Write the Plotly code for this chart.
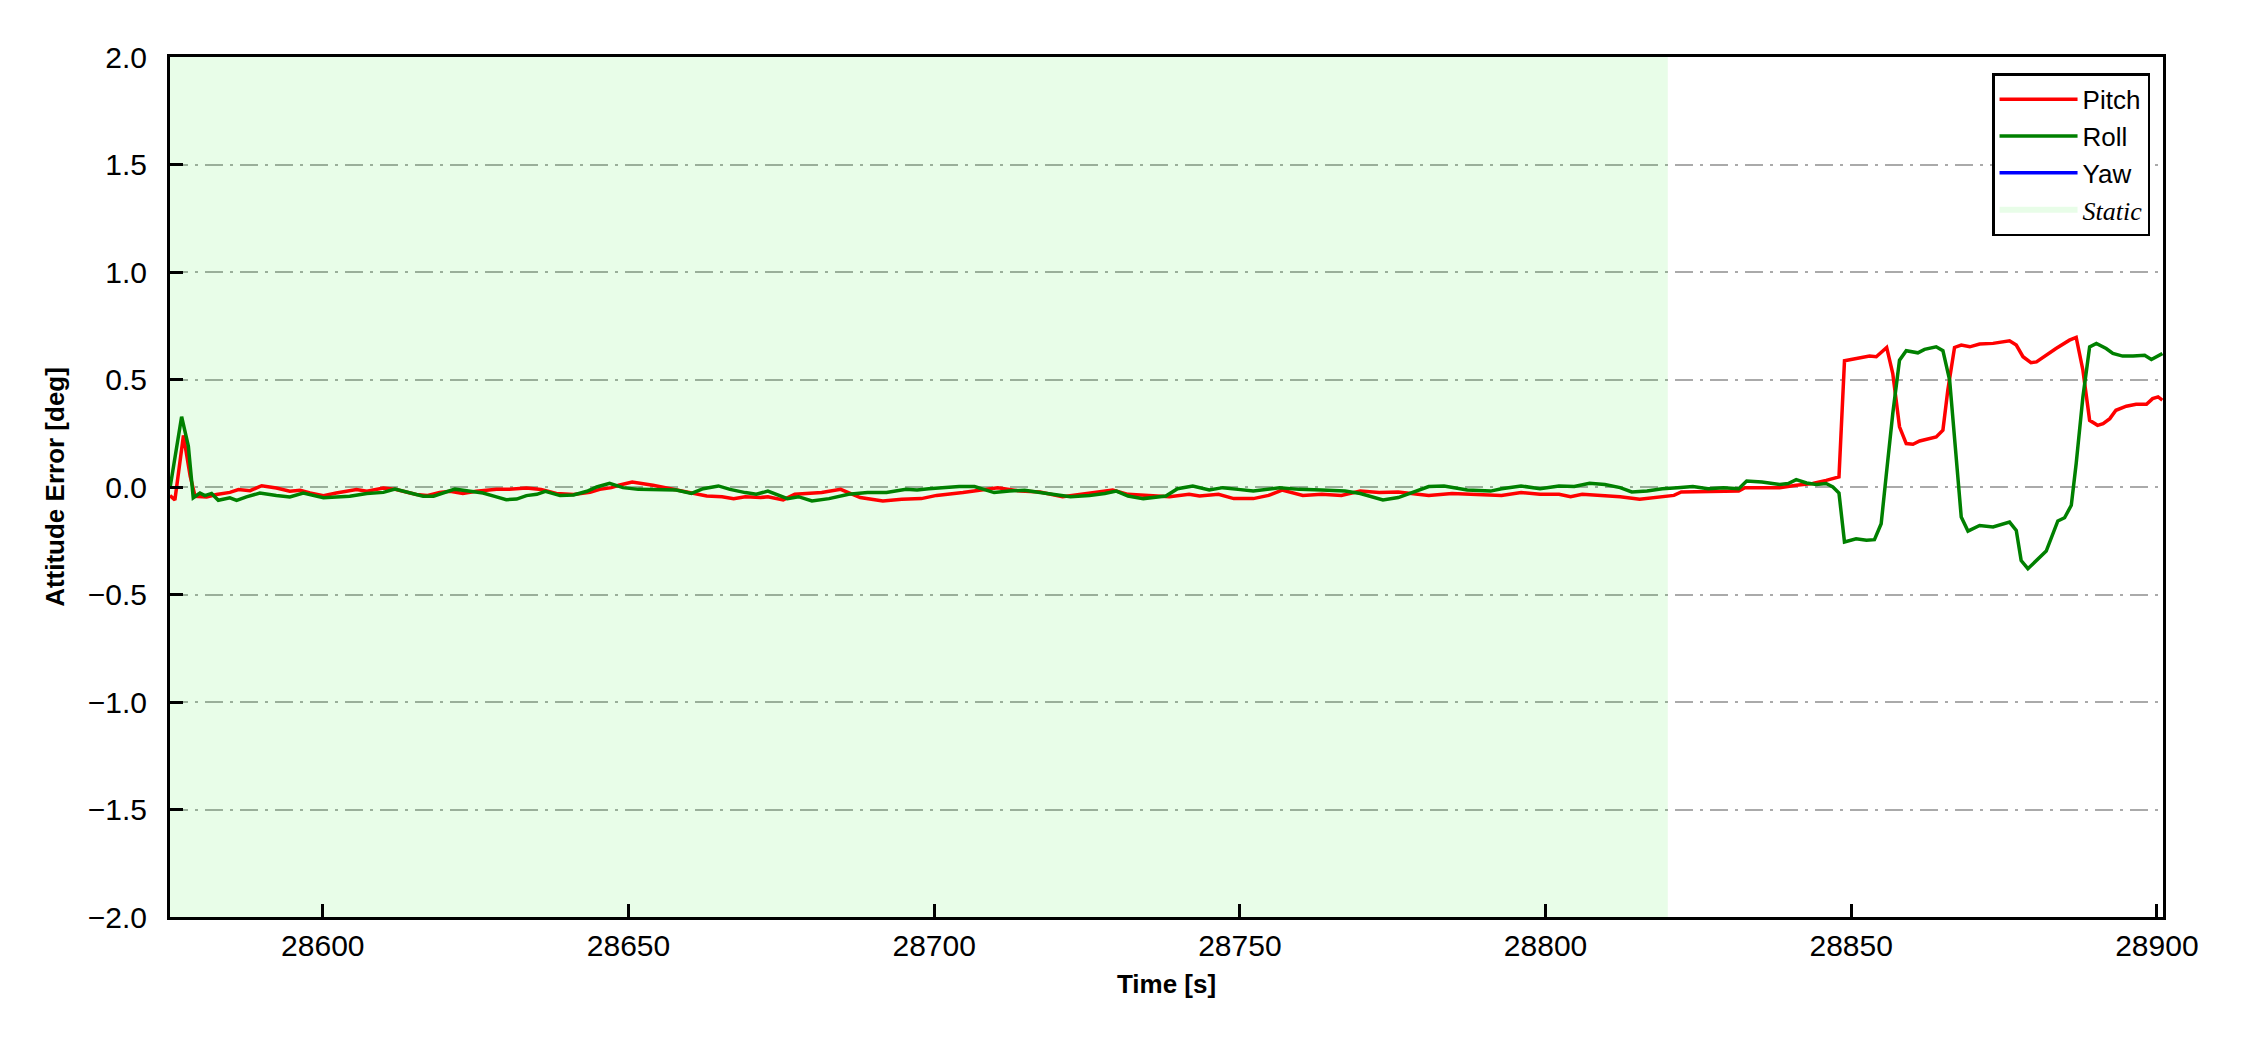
import plotly.graph_objects as go

# Attitude error time series
pitch_t = [28575.0, 28575.8, 28577.2, 28578.3, 28579.1, 28581.0, 28582.6, 28584.8, 28586.2, 28588.1,
           28590.0, 28592.4, 28594.6, 28596.3, 28597.9, 28600.1, 28602.2, 28604.4, 28605.5, 28607.2,
           28609.9, 28612.0, 28615.3, 28617.0, 28619.1, 28620.8, 28622.9, 28625.1, 28628.4, 28630.5,
           28633.3, 28635.7, 28638.2, 28641.0, 28643.7, 28645.3, 28647.2, 28648.4, 28650.6, 28654.0,
           28657.8, 28660.3, 28662.8, 28665.3, 28667.2, 28669.1, 28671.6, 28672.8, 28675.3, 28677.2,
           28681.6, 28684.7, 28687.9, 28691.6, 28694.7, 28697.9, 28700.4, 28704.7, 28707.9, 28710.4,
           28714.1, 28717.3, 28721.0, 28724.2, 28726.7, 28729.2, 28731.7, 28734.8, 28738.5, 28741.7,
           28743.4, 28746.5, 28749.0, 28752.2, 28754.7, 28756.9, 28760.3, 28763.4, 28766.6, 28769.7,
           28772.8, 28775.9, 28780.9, 28784.7, 28789.1, 28792.8, 28796.0, 28799.1, 28802.2, 28804.1,
           28806.0, 28809.1, 28812.2, 28815.4, 28818.5, 28821.0, 28822.2, 28826.0, 28829.7, 28831.6,
           28832.6, 28836.6, 28838.3, 28841.0, 28843.7, 28845.9, 28848.0, 28848.9, 28850.8, 28853.0,
           28854.1, 28855.8, 28856.8, 28857.9, 28859.0, 28860.1, 28861.2, 28863.9, 28865.0, 28865.8,
           28866.9, 28868.0, 28869.4, 28871.0, 28873.2, 28875.9, 28877.0, 28878.1, 28879.4, 28880.3,
           28883.5, 28885.7, 28886.8, 28887.9, 28889.0, 28890.3, 28891.2, 28892.3, 28893.3, 28895.0,
           28896.6, 28898.3, 28899.3, 28900.2, 28900.9]
pitch_v = [-0.04, -0.06, 0.24, 0.05, -0.043, -0.046, -0.035, -0.025, -0.012, -0.017,
           0.006, -0.005, -0.02, -0.015, -0.028, -0.04, -0.028, -0.015, -0.012, -0.02,
           -0.005, -0.012, -0.035, -0.04, -0.025, -0.02, -0.03, -0.02, -0.01, -0.01,
           -0.005, -0.012, -0.03, -0.035, -0.025, -0.011, -0.003, 0.008, 0.023, 0.008,
           -0.014, -0.03, -0.042, -0.045, -0.054, -0.045, -0.049, -0.045, -0.06, -0.034,
           -0.026, -0.011, -0.049, -0.065, -0.057, -0.054, -0.039, -0.026, -0.011, -0.003,
           -0.019, -0.023, -0.045, -0.034, -0.023, -0.014, -0.034, -0.039, -0.045, -0.034,
           -0.042, -0.034, -0.054, -0.054, -0.039, -0.014, -0.039, -0.034, -0.039, -0.019,
           -0.026, -0.023, -0.039, -0.03, -0.034, -0.039, -0.026, -0.034, -0.034, -0.045,
           -0.034, -0.039, -0.045, -0.057, -0.049, -0.039, -0.023, -0.023, -0.019, -0.019,
           -0.003, -0.003, -0.003, 0.008, 0.016, 0.031, 0.047, 0.587, 0.598, 0.609,
           0.606, 0.649, 0.528, 0.28, 0.202, 0.199, 0.214, 0.233, 0.264, 0.45,
           0.649, 0.66, 0.652, 0.665, 0.668, 0.68, 0.66, 0.606, 0.578, 0.582,
           0.644, 0.683, 0.696, 0.543, 0.31, 0.287, 0.295, 0.318, 0.357, 0.376,
           0.385, 0.385, 0.411, 0.419, 0.404]

roll_t = [28575.0, 28576.9, 28578.0, 28578.8, 28579.9, 28580.7, 28581.8, 28582.9, 28584.8, 28585.9,
          28587.5, 28589.7, 28592.4, 28594.6, 28596.8, 28597.9, 28600.1, 28602.2, 28604.4, 28607.2,
          28609.9, 28611.8, 28614.2, 28616.4, 28618.1, 28619.7, 28621.6, 28624.1, 28626.2, 28628.4,
          28630.0, 28631.7, 28633.3, 28635.0, 28636.4, 28638.8, 28641.0, 28643.2, 28644.8, 28646.9,
          28649.1, 28651.6, 28654.7, 28657.8, 28660.3, 28662.2, 28664.7, 28666.6, 28669.1, 28670.9,
          28672.8, 28676.0, 28677.8, 28680.0, 28682.8, 28686.0, 28689.1, 28692.2, 28695.4, 28697.2,
          28699.1, 28701.6, 28704.1, 28706.6, 28709.8, 28712.3, 28714.8, 28717.3, 28719.8, 28722.3,
          28725.4, 28727.9, 28729.8, 28731.7, 28734.2, 28737.9, 28739.8, 28742.3, 28745.0, 28747.2,
          28749.7, 28752.2, 28756.5, 28759.7, 28763.4, 28767.2, 28769.7, 28773.4, 28775.9, 28778.4,
          28780.9, 28783.4, 28787.2, 28791.0, 28792.8, 28796.0, 28799.1, 28802.2, 28804.7, 28807.2,
          28809.7, 28812.2, 28814.1, 28816.6, 28819.1, 28821.6, 28824.1, 28826.6, 28829.1, 28831.6,
          28832.9, 28835.4, 28838.3, 28839.7, 28841.0, 28842.7, 28844.3, 28845.9, 28847.0, 28848.0,
          28848.9, 28850.8, 28852.5, 28853.8, 28854.9, 28855.7, 28856.8, 28857.9, 28859.0, 28860.9,
          28862.0, 28863.9, 28865.0, 28866.1, 28867.2, 28868.0, 28869.1, 28871.0, 28873.2, 28875.9,
          28877.0, 28877.8, 28878.9, 28880.3, 28881.9, 28883.8, 28884.9, 28886.0, 28886.8, 28887.9,
          28889.0, 28890.1, 28891.7, 28892.8, 28894.4, 28896.1, 28898.0, 28899.1, 28900.9]
roll_v = [-0.005, 0.327, 0.19, -0.05, -0.028, -0.04, -0.03, -0.062, -0.05, -0.062,
          -0.046, -0.028, -0.04, -0.046, -0.028, -0.035, -0.05, -0.046, -0.043, -0.03,
          -0.025, -0.01, -0.028, -0.043, -0.043, -0.028, -0.01, -0.02, -0.028, -0.046,
          -0.059, -0.056, -0.04, -0.034, -0.02, -0.04, -0.037, -0.02, 0.0, 0.017,
          -0.003, -0.011, -0.014, -0.014, -0.03, -0.008, 0.005, -0.011, -0.026, -0.034,
          -0.019, -0.054, -0.045, -0.065, -0.054, -0.034, -0.026, -0.026, -0.011, -0.014,
          -0.008, -0.003, 0.002, 0.002, -0.026, -0.019, -0.015, -0.026, -0.034, -0.045,
          -0.039, -0.03, -0.019, -0.042, -0.054, -0.042, -0.008, 0.005, -0.014, -0.003,
          -0.011, -0.019, -0.003, -0.011, -0.014, -0.019, -0.03, -0.06, -0.049, -0.023,
          0.002, 0.005, -0.014, -0.019, -0.008, 0.005, -0.008, 0.005, 0.002, 0.017,
          0.012, -0.003, -0.023, -0.019, -0.008, -0.003, 0.002, -0.008, -0.003, -0.008,
          0.028, 0.023, 0.012, 0.016, 0.034, 0.019, 0.012, 0.016, 0.0, -0.028,
          -0.256, -0.241, -0.248, -0.245, -0.171, 0.047, 0.342, 0.59, 0.634, 0.624,
          0.64, 0.652, 0.634, 0.497, 0.14, -0.14, -0.205, -0.179, -0.186, -0.163,
          -0.202, -0.342, -0.38, -0.342, -0.298, -0.158, -0.143, -0.085, 0.109, 0.419,
          0.652, 0.668, 0.644, 0.621, 0.609, 0.609, 0.613, 0.593, 0.621]

# yaw is listed in the legend but has no visible samples in the window
yaw_t = [28575.0]
yaw_v = [None]

static_interval = [28575, 28820]

x_range = [28575, 28901]
y_range = [-2.0, 2.0]
x_ticks = [28600, 28650, 28700, 28750, 28800, 28850, 28900]
y_ticks = [-2.0, -1.5, -1.0, -0.5, 0.0, 0.5, 1.0, 1.5, 2.0]

FONT = 'Liberation Sans, Arial, sans-serif'

fig = go.Figure()

# static period shading (translucent so the grid still shows through)
fig.add_trace(go.Scatter(
    x=[static_interval[0], static_interval[1], static_interval[1], static_interval[0]],
    y=[y_range[0], y_range[0], y_range[1], y_range[1]],
    mode='none', fill='toself', fillcolor='rgba(0,230,0,0.09)',
    name='<span style="font-family:Liberation Serif, Times New Roman, serif"><i>Static</i></span>',
    legendrank=4,
))

fig.add_trace(go.Scatter(x=pitch_t, y=pitch_v, mode='lines', name='Pitch',
                         line=dict(color='#ff0000', width=3.5), legendrank=1))
fig.add_trace(go.Scatter(x=roll_t, y=roll_v, mode='lines', name='Roll',
                         line=dict(color='#008000', width=3.5), legendrank=2))
fig.add_trace(go.Scatter(x=yaw_t, y=yaw_v, mode='lines', name='Yaw', showlegend=True,
                         line=dict(color='#0000ff', width=3.5), legendrank=3))

# page body adds an 8px offset, margins compensate for it
fig.update_layout(
    width=2250, height=1050,
    margin=dict(l=162, r=95, t=49, b=141),
    paper_bgcolor='white',
    plot_bgcolor='white',
    font=dict(family=FONT, size=30, color='black'),
    showlegend=True,
    legend=dict(
        x=0.9935, y=0.981, xanchor='right', yanchor='top',
        bgcolor='white', bordercolor='black', borderwidth=2.5,
        font=dict(family=FONT, size=26, color='black'),
        itemwidth=78, tracegroupgap=0,
    ),
    hovermode=False,
)

fig.update_xaxes(
    range=x_range, tickvals=x_ticks, ticktext=[str(v) for v in x_ticks],
    showgrid=False, zeroline=False, automargin=False,
    showline=True, linecolor='black', linewidth=3, mirror=True,
    ticks='inside', ticklen=13, tickwidth=2.5, tickcolor='black',
    tickfont=dict(size=30),
    title=dict(text='<b>Time [s]</b>', font=dict(size=26), standoff=14),
)
fig.update_yaxes(
    range=y_range, tickvals=y_ticks, tickformat='.1f',
    showgrid=True, gridcolor='#aaaaaa', gridwidth=2, griddash='18px,7px,3px,7px',
    zeroline=False, automargin=False,
    showline=True, linecolor='black', linewidth=3, mirror=True,
    ticks='inside', ticklen=13, tickwidth=2.5, tickcolor='black',
    tickfont=dict(size=30), ticklabelstandoff=14,
    title=dict(text='<b>Attitude Error [deg]</b>', font=dict(size=26), standoff=16),
)

fig.write_html("out.html", config={'displayModeBar': False})
